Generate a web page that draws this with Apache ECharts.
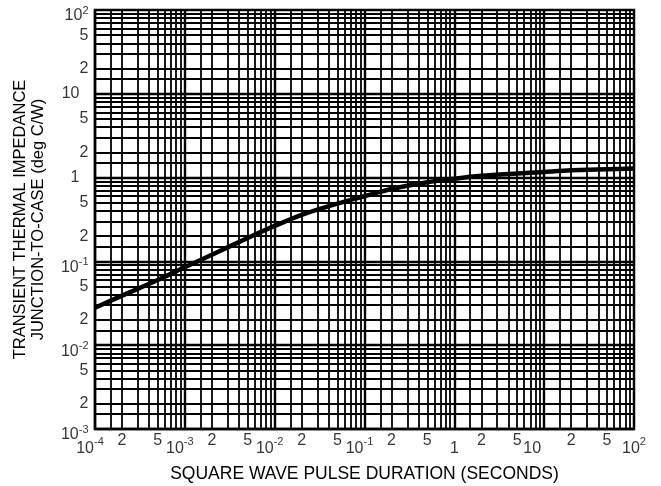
<!DOCTYPE html>
<html>
<head>
<meta charset="utf-8">
<script src="https://cdn.jsdelivr.net/npm/echarts@6/dist/echarts.min.js"></script>
<style>
html, body { margin: 0; padding: 0; background: #fff; }
#chart { width: 661px; height: 486px; }
</style>
</head>
<body>
<div id="chart"></div>
<script>
// curve
var pulseDuration = [1e-4, 2e-4, 5e-4, 1e-3, 2e-3, 5e-3, 1e-2, 2e-2, 5e-2, 0.1, 0.2, 0.5, 1, 2, 5, 10, 20, 50, 100];
var thermalImpedance = [0.028, 0.039, 0.06, 0.085, 0.12, 0.19, 0.265, 0.36, 0.49, 0.6, 0.73, 0.88, 0.97, 1.05, 1.12, 1.17, 1.22, 1.26, 1.28];

// tick labels
var xLabelValues = [1e-4, 2e-4, 5e-4, 1e-3, 2e-3, 5e-3, 1e-2, 2e-2, 5e-2, 0.1, 0.2, 0.5, 1, 2, 5, 10, 20, 50, 100];
var yLabelValues = [1e-3, 2e-3, 5e-3, 1e-2, 2e-2, 5e-2, 0.1, 0.2, 0.5, 1, 2, 5, 10, 20, 50, 100];

// log paper rulings
var xDecades = [1e-4, 1e-3, 1e-2, 1e-1, 1, 10];
var yDecades = [1e-3, 1e-2, 1e-1, 1, 10];
var gridSteps = [1, 1.5, 2, 3, 4, 5, 6, 7, 8, 9];

var X_MIN = 1e-4, X_MAX = 100, Y_MIN = 1e-3, Y_MAX = 100;
var FONT = 'Liberation Sans';

function expOf(v) { return Math.round(Math.log10(v)); }
function isDecade(v) { return Math.abs(v / Math.pow(10, expOf(v)) - 1) < 1e-9; }
function mantissa(v) { return Math.round(v / Math.pow(10, Math.floor(Math.log10(v) + 1e-9))); }

function xLabel(v) {
    if (!isDecade(v)) return '{n|' + mantissa(v) + '}';
    var e = expOf(v);
    if (e === 0) return '{b|1}';
    if (e === 1) return '{q|10}';
    return '{b|10}{' + (e < 0 ? 'sn' : 's') + '|' + e + '}';
}

function yLabel(v) {
    if (!isDecade(v)) return '{n|' + mantissa(v) + '}';
    var e = expOf(v);
    if (e === 0) return '{p|1}';
    if (e === 1) return '{p|10}';
    return '{b|10}{s|' + e + '}';
}

// each ruling is a two-point markLine so the log axes place both ends
var rulings = [];
xDecades.forEach(function (d) {
    gridSteps.forEach(function (m) {
        var w = m === 1 ? 2.4 : 1.8;
        rulings.push([{ coord: [m * d, Y_MIN], lineStyle: { width: w } }, { coord: [m * d, Y_MAX] }]);
    });
});
yDecades.forEach(function (d) {
    gridSteps.forEach(function (m) {
        var w = m === 1 ? 2.4 : 1.8;
        rulings.push([{ coord: [X_MIN, m * d], lineStyle: { width: w } }, { coord: [X_MAX, m * d] }]);
    });
});

var txt = { fontFamily: FONT, color: '#000' };

var chart = echarts.init(document.getElementById('chart'), null, { renderer: 'canvas' });

chart.setOption({
    backgroundColor: '#fff',
    animation: false,
    grid: {
        left: 95, right: 27, top: 10, bottom: 57,
        show: true, borderColor: '#000', borderWidth: 2.5,
        outerBoundsMode: 'none'
    },
    xAxis: {
        type: 'log', logBase: 10, min: X_MIN, max: X_MAX,
        axisLine: { show: false }, axisTick: { show: false },
        axisLabel: { show: false }, splitLine: { show: false },
        name: 'SQUARE WAVE PULSE DURATION (SECONDS)',
        nameLocation: 'middle', nameGap: 36,
        nameTextStyle: { fontFamily: FONT, fontSize: 17.5, color: '#000' }
    },
    yAxis: {
        type: 'log', logBase: 10, min: Y_MIN, max: Y_MAX,
        axisLine: { show: false }, axisTick: { show: false },
        axisLabel: { show: false }, splitLine: { show: false },
        name: 'TRANSIENT THERMAL IMPEDANCE\nJUNCTION-TO-CASE (deg C/W)',
        nameLocation: 'middle', nameRotate: 90, nameGap: 48,
        nameTextStyle: { fontFamily: FONT, fontSize: 16.5, lineHeight: 18, color: '#000' }
    },
    series: [
        {
            // chart paper rulings
            type: 'line', data: [], silent: true,
            markLine: {
                silent: true, z: 1, symbol: ['none', 'none'], animation: false,
                label: { show: false },
                lineStyle: { color: '#000', type: 'solid', width: 1.8 },
                emphasis: { disabled: true },
                data: rulings
            }
        },
        {
            type: 'line', z: 3,
            data: pulseDuration.map(function (t, i) { return [t, thermalImpedance[i]]; }),
            smooth: 0.3,
            symbol: 'none', silent: true,
            lineStyle: { color: '#000', width: 4.5 }
        },
        {
            // x tick labels
            type: 'scatter', z: 4, silent: true, clip: false,
            symbolSize: 1, itemStyle: { color: 'rgba(0,0,0,0)' },
            data: xLabelValues.map(function (v) { return [v, Y_MIN]; }),
            label: {
                show: true, position: 'bottom', distance: 2,
                formatter: function (p) { return xLabel(p.value[0]); },
                rich: {
                    b: Object.assign({ fontSize: 16, lineHeight: 16, padding: [9, 0, 0, 0], verticalAlign: 'top' }, txt),
                    q: Object.assign({ fontSize: 16, lineHeight: 16, padding: [9, 24, 0, 0], verticalAlign: 'top' }, txt),
                    s: Object.assign({ fontSize: 11, lineHeight: 11, padding: [5, 0, 0, 0], verticalAlign: 'top' }, txt),
                    sn: Object.assign({ fontSize: 11, lineHeight: 11, padding: [5, 10, 0, 0], verticalAlign: 'top' }, txt),
                    n: Object.assign({ fontSize: 16, lineHeight: 16, padding: [1, 0, 0, 0], verticalAlign: 'top' }, txt)
                }
            }
        },
        {
            // y tick labels
            type: 'scatter', z: 4, silent: true, clip: false,
            symbolSize: 1, itemStyle: { color: 'rgba(0,0,0,0)' },
            data: yLabelValues.map(function (v) { return [X_MIN, v]; }),
            label: {
                show: true, position: 'left', distance: 6,
                formatter: function (p) { return yLabel(p.value[1]); },
                rich: {
                    b: Object.assign({ fontSize: 16, lineHeight: 16, padding: [6, 0, 6, 0], verticalAlign: 'top' }, txt),
                    s: Object.assign({ fontSize: 11, lineHeight: 11, padding: [3, 0, 0, 0], verticalAlign: 'top' }, txt),
                    p: Object.assign({ fontSize: 16, lineHeight: 16, padding: [0, 9, 0, 0] }, txt),
                    n: Object.assign({ fontSize: 16, lineHeight: 16 }, txt)
                }
            }
        }
    ]
});
</script>
</body>
</html>
